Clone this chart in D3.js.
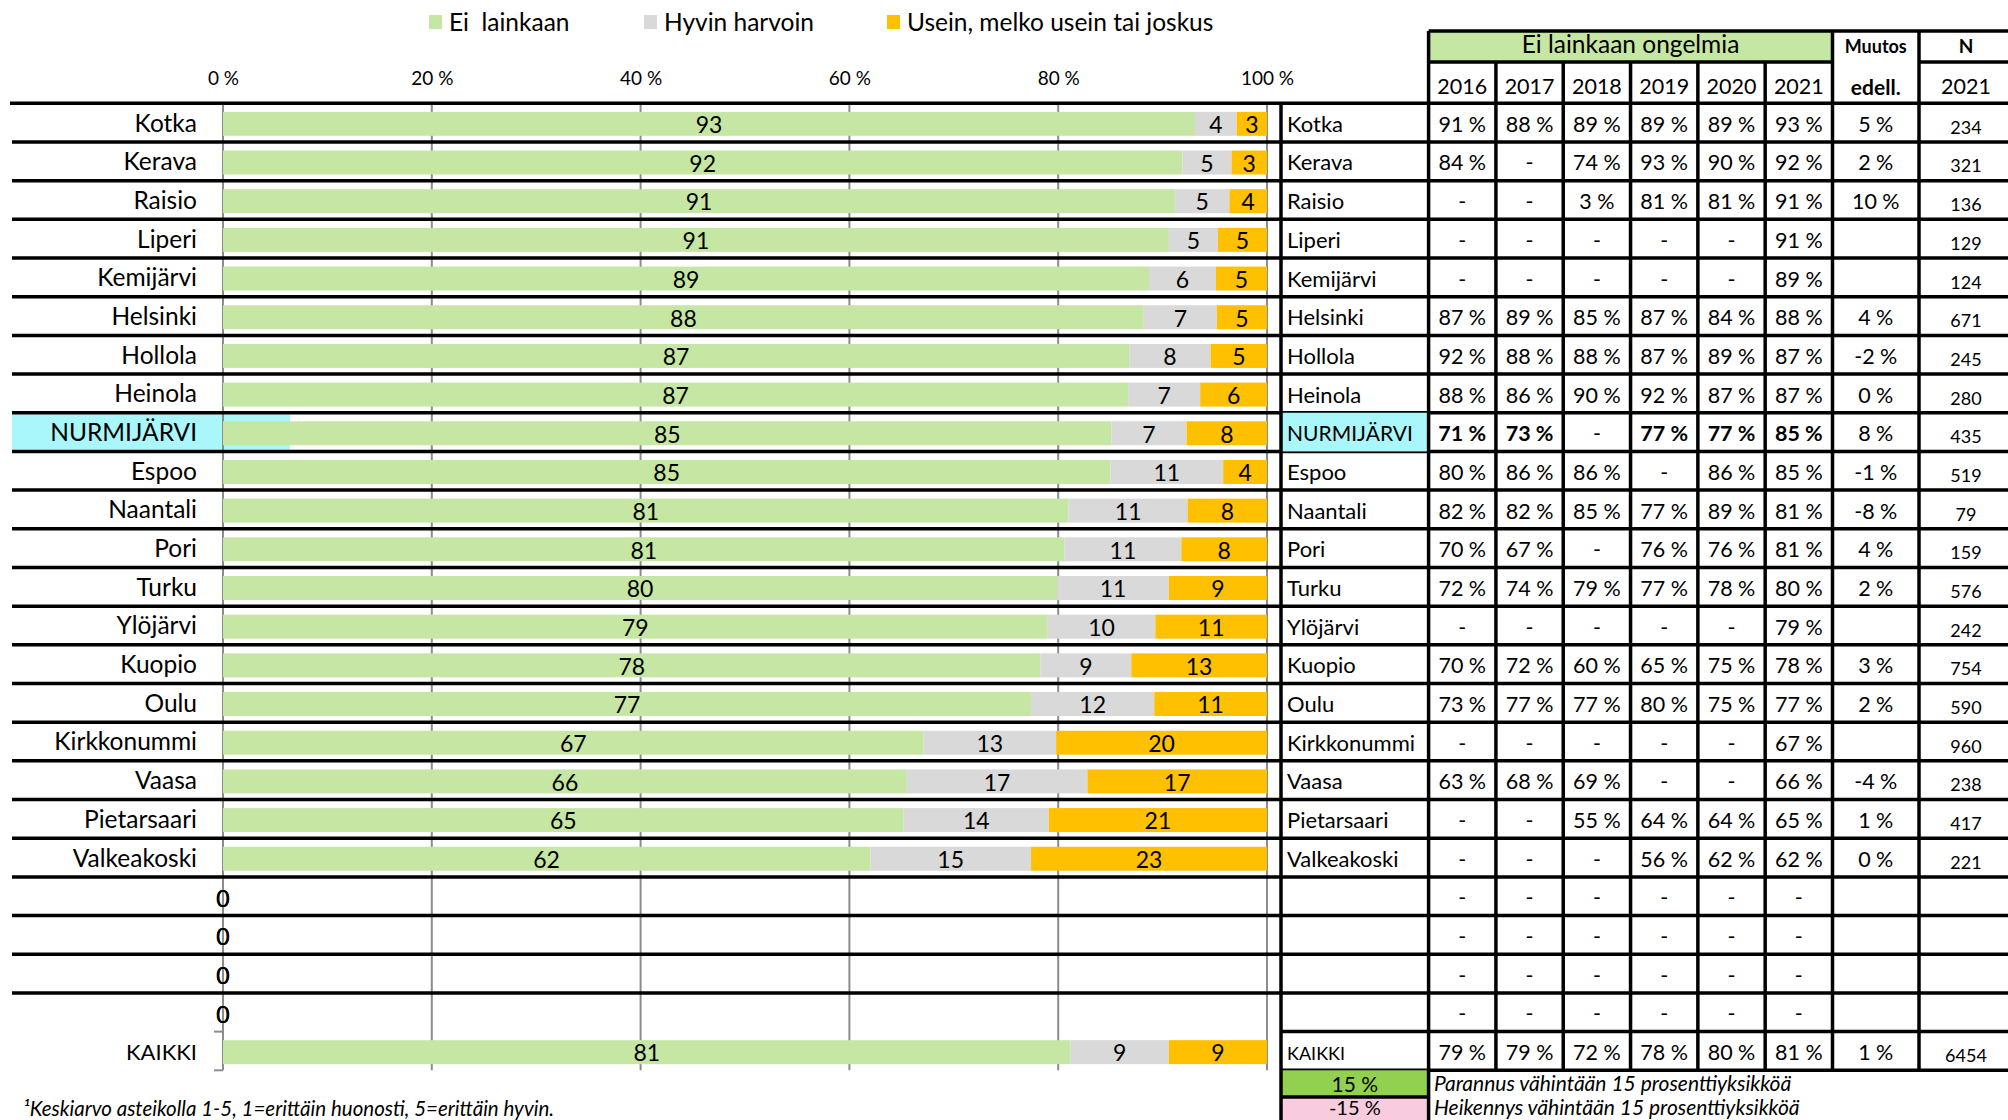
<!DOCTYPE html>
<html><head><meta charset="utf-8">
<script src="https://cdn.jsdelivr.net/npm/d3@7"></script>
<style>
body{margin:0;background:#fff}
text{font-family:Lato,"Open Sans",sans-serif;fill:#000}
</style>
</head><body>
<svg id="c" width="2008" height="1120"></svg>
<script>
// ---------- DATA ----------
const categories = ["Kotka","Kerava","Raisio","Liperi","Kemijärvi","Helsinki","Hollola","Heinola","NURMIJÄRVI","Espoo","Naantali","Pori","Turku","Ylöjärvi","Kuopio","Oulu","Kirkkonummi","Vaasa","Pietarsaari","Valkeakoski","","","","","KAIKKI"];
const highlight = "NURMIJÄRVI";
const seriesNames = ["Ei  lainkaan","Hyvin harvoin","Usein, melko usein tai joskus"];
const eiLainkaan   = [93.1,91.9,91.2,90.6,88.7,88.2,86.8,86.7,85.1,85.0,81.0,80.6,79.9,79.0,78.3,77.4,67.1,65.5,65.2,62.0,0,0,0,0,81.2];
const hyvinHarvoin = [4.0,4.7,5.2,4.7,6.4,7.0,7.8,6.9,7.2,10.8,11.4,11.2,10.7,10.3,8.7,11.8,12.7,17.3,13.9,15.4,0,0,0,0,9.4];
const usein        = [2.9,3.4,3.6,4.7,4.9,4.8,5.4,6.4,7.7,4.2,7.6,8.2,9.4,10.7,13.0,10.8,20.2,17.2,20.9,22.6,0,0,0,0,9.4];
const xTicks = [0,20,40,60,80,100];

const years = ["2016","2017","2018","2019","2020","2021"];
const v2016 = [91,84,null,null,null,87,92,88,71,80,82,70,72,null,70,73,null,63,null,null,null,null,null,null,79];
const v2017 = [88,null,null,null,null,89,88,86,73,86,82,67,74,null,72,77,null,68,null,null,null,null,null,null,79];
const v2018 = [89,74,3,null,null,85,88,90,null,86,85,null,79,null,60,77,null,69,55,null,null,null,null,null,72];
const v2019 = [89,93,81,null,null,87,87,92,77,null,77,76,77,null,65,80,null,null,64,56,null,null,null,null,78];
const v2020 = [89,90,81,null,null,84,89,87,77,86,89,76,78,null,75,75,null,null,64,62,null,null,null,null,80];
const v2021 = [93,92,91,91,89,88,87,87,85,85,81,81,80,79,78,77,67,66,65,62,null,null,null,null,81];
const muutos = [5,2,10,null,null,4,-2,0,8,-1,-8,4,2,null,3,2,null,-4,1,0,null,null,null,null,1];
const nCounts = [234,321,136,129,124,671,245,280,435,519,79,159,576,242,754,590,960,238,417,221,null,null,null,null,6454];

const tableTitle = "Ei lainkaan ongelmia";
const muutosHead = ["Muutos","edell."];
const nHead = ["N","2021"];
const keyTexts = [["15 %","Parannus vähintään 15 prosenttiyksikköä"],["-15 %","Heikennys vähintään 15 prosenttiyksikköä"]];
const footnote = "¹Keskiarvo asteikolla 1-5, 1=erittäin huonosti, 5=erittäin hyvin.";

// ---------- STYLE ----------
const cGreen="#C6E6A3", cGray="#D9D9D9", cOrange="#FFC000", cCyan="#A9F7FB";
const cKeyGreen="#92D050", cKeyPink="#F8CCDE", cGrid="#8C8C8C";
const colors=[cGreen,cGray,cOrange];
const lineW=3.5;

const svg=d3.select("#c");
const series=[eiLainkaan,hyvinHarvoin,usein];
const idx=d3.range(categories.length);

const x=d3.scaleLinear().domain([0,100]).range([223,1267]);
const yRow=d3.scaleBand().domain(idx).range([103.3,1070.3]);
const yBar=d3.scaleBand().domain(idx).range([104.5,1071.5]).paddingInner(0.38).paddingOuter(0.19);
const step=yRow.step();
const rowLine=k=>103.3+k*step;

// ---------- LEGEND ----------
const legX=[429,644,887];
const lg=svg.append("g");
seriesNames.forEach((s,i)=>{
  lg.append("rect").attr("x",legX[i]).attr("y",15).attr("width",13).attr("height",14).attr("fill",colors[i]);
  lg.append("text").attr("x",legX[i]+20).attr("y",30.5).attr("font-size",24.5)
    .style("white-space","pre").text(s);
});

// ---------- CHART ----------
const hiIdx=categories.indexOf(highlight);
svg.append("rect").attr("x",12).attr("y",rowLine(hiIdx)+1.7).attr("width",210).attr("height",step-3.4).attr("fill",cCyan);
svg.append("rect").attr("x",223).attr("y",rowLine(hiIdx)+1.7).attr("width",67).attr("height",step-3.4).attr("fill",cCyan);

const ax=svg.append("g").attr("transform","translate(0,103)")
  .call(d3.axisTop(x).tickValues(xTicks).tickSize(0).tickPadding(18).tickFormat(d=>d+" %"));
ax.select(".domain").remove();
ax.selectAll("text").attr("font-size",19).attr("font-family","Lato,sans-serif").attr("fill","#000");

svg.append("g").selectAll("line").data(xTicks).join("line")
  .attr("x1",d=>x(d)).attr("x2",d=>x(d)).attr("y1",103).attr("y2",rowLine(25))
  .attr("stroke",cGrid).attr("stroke-width",2);
svg.append("g").selectAll("line").data(d3.range(categories.length+1)).join("line")
  .attr("x1",214).attr("x2",223).attr("y1",k=>rowLine(k)).attr("y2",k=>rowLine(k))
  .attr("stroke",cGrid).attr("stroke-width",2);

const stacks=idx.map(i=>{let acc=0;return series.map((s,j)=>{const o={i,j,x0:acc,x1:acc+s[i],v:s[i]};acc+=s[i];return o;});});
const bg=svg.append("g");
stacks.flat().forEach(d=>{
  bg.append("rect").attr("x",x(d.x0)).attr("y",yBar(d.i)).attr("width",x(d.x1)-x(d.x0)).attr("height",yBar.bandwidth()).attr("fill",colors[d.j]);
});

const lines=svg.append("g").attr("stroke","#000").attr("stroke-width",lineW);
d3.range(0,26).forEach(k=>{
  const x1 = k<=23 ? (k===0?10:12) : 1281;
  lines.append("line").attr("x1",x1).attr("x2",2008).attr("y1",rowLine(k)).attr("y2",rowLine(k));
});

const tl=svg.append("g");
stacks.flat().forEach(d=>{
  tl.append("text").attr("x",(x(d.x0)+x(d.x1))/2).attr("y",yBar(d.i)+yBar.bandwidth()/2+1)
    .attr("dy","0.36em").attr("text-anchor","middle").attr("font-size",23).text(Math.round(d.v));
});

svg.append("g").selectAll("text").data(idx).join("text")
  .attr("x",197).attr("y",i=>rowLine(i)+28.3).attr("text-anchor","end")
  .attr("font-size",i=>categories[i]==="KAIKKI"?22:24.5)
  .text(i=>categories[i]);

// ---------- TABLE ----------
const tX0=1281, tName=1428.6, tYearEnd=1832.5, tMuutosEnd=1919, tEnd=2008;
const xc=d3.scaleBand().domain(years).range([tName,tYearEnd]);
const yearVals=[v2016,v2017,v2018,v2019,v2020,v2021];
const tg=svg.append("g");
tg.append("rect").attr("x",tName).attr("y",31).attr("width",tYearEnd-tName).attr("height",31).attr("fill",cGreen);
tg.append("rect").attr("x",tX0).attr("y",rowLine(hiIdx)).attr("width",tName-tX0).attr("height",step).attr("fill",cCyan);
tg.append("rect").attr("x",tX0).attr("y",rowLine(25)).attr("width",tName-tX0).attr("height",1097-rowLine(25)).attr("fill",cKeyGreen);
tg.append("rect").attr("x",tX0).attr("y",1097).attr("width",tName-tX0).attr("height",1120-1097).attr("fill",cKeyPink);

tg.append("text").attr("x",(tName+tYearEnd)/2).attr("y",53).attr("text-anchor","middle").attr("font-size",24.5).text(tableTitle);
years.forEach(yr=>tg.append("text").attr("x",xc(yr)+xc.bandwidth()/2).attr("y",94).attr("text-anchor","middle").attr("font-size",21.5).text(yr));
const mC=(tYearEnd+tMuutosEnd)/2, nC=1966;
tg.append("text").attr("x",mC).attr("y",53).attr("text-anchor","middle").attr("font-size",18).attr("font-weight","bold").text(muutosHead[0]);
tg.append("text").attr("x",mC).attr("y",95).attr("text-anchor","middle").attr("font-size",21).attr("font-weight","bold").text(muutosHead[1]);
tg.append("text").attr("x",nC).attr("y",53).attr("text-anchor","middle").attr("font-size",19).attr("font-weight","bold").text(nHead[0]);
tg.append("text").attr("x",nC).attr("y",94).attr("text-anchor","middle").attr("font-size",21.5).text(nHead[1]);

idx.forEach(i=>{
  const base=rowLine(i)+28.5;
  const isK=categories[i]==="KAIKKI";
  const isH=categories[i]===highlight;
  tg.append("text").attr("x",1287).attr("y",base).attr("font-size",isK?18:(isH?21:22)).text(categories[i]);
  years.forEach((yr,j)=>{
    const v=yearVals[j][i];
    tg.append("text").attr("x",xc(yr)+xc.bandwidth()/2).attr("y",base).attr("text-anchor","middle")
      .attr("font-size",21.5).attr("font-weight",isH&&v!==null?"bold":"normal")
      .text(v===null?"-":v+" %");
  });
  if(muutos[i]!==null) tg.append("text").attr("x",mC).attr("y",base).attr("text-anchor","middle").attr("font-size",21.5).text(muutos[i]+" %");
  if(nCounts[i]!==null) tg.append("text").attr("x",nC).attr("y",rowLine(i)+30.5).attr("text-anchor","middle").attr("font-size",18).text(nCounts[i]);
});

tg.append("text").attr("x",(tX0+tName)/2).attr("y",1092).attr("text-anchor","middle").attr("font-size",21).text(keyTexts[0][0]);
tg.append("text").attr("x",(tX0+tName)/2).attr("y",1114.5).attr("text-anchor","middle").attr("font-size",20).text(keyTexts[1][0]);
tg.append("text").attr("x",1434).attr("y",1091).attr("font-size",21).attr("font-style","italic").text(keyTexts[0][1]);
tg.append("text").attr("x",1434).attr("y",1115).attr("font-size",21).attr("font-style","italic").text(keyTexts[1][1]);

const tl2=svg.append("g").attr("stroke","#000").attr("stroke-width",lineW);
const L=(a,b,c,d)=>tl2.append("line").attr("x1",a).attr("y1",b).attr("x2",c).attr("y2",d);
L(tName,31,tEnd,31);
L(tName,62,tYearEnd,62);
L(tMuutosEnd,62,tEnd,62);
L(tX0,1097,tName,1097);
L(tX0,rowLine(0),tX0,1120);
L(tName,31,tName,1120);
years.slice(1).forEach(yr=>L(xc(yr),62,xc(yr),rowLine(25)));
L(tYearEnd,31,tYearEnd,rowLine(25));
L(tMuutosEnd,31,tMuutosEnd,rowLine(25));

svg.append("text").attr("x",23).attr("y",1116).attr("font-size",20.5).attr("font-style","italic").text(footnote);
</script>
</body></html>
